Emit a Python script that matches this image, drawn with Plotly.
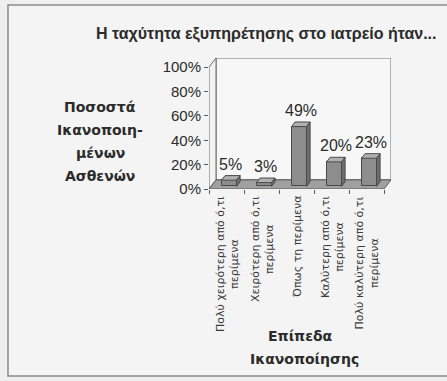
import plotly.graph_objects as go

# Survey results: perceived speed of service at the practice
categories = [
    "Πολύ χειρότερη από ό,τι<br>περίμενα",
    "Χειρότερη από ό,τι<br>περίμενα",
    "Όπως τη περίμενα",
    "Καλύτερη από ό,τι<br>περίμενα",
    "Πολύ καλύτερη από ό,τι<br>περίμενα",
]
percent = [5, 3, 49, 20, 23]
y_ticks = [0, 20, 40, 60, 80, 100]

title_text = "Η ταχύτητα εξυπηρέτησης στο ιατρείο ήταν..."
y_title_lines = ["Ποσοστά", "Ικανοποιη-", "μένων", "Ασθενών"]
x_title_lines = ["Επίπεδα", "Ικανοποίησης"]

# Figure geometry (pixels)
W, H = 447, 381
PL, PR, PT, PB = 209, 391, 58, 189  # plot area box

FONT = "Liberation Sans, Arial, sans-serif"
WIDE = "DejaVu Sans, Verdana, sans-serif"
TEXT = "#2b2b2b"

# 3D perspective offsets in data units
DX = 0.2      # depth along x (category units)
DY = 7.5      # depth along y (percent units)
XL, XR = -0.514, 4.486  # front-left / front-right floor edges
BAR_W = 0.43
FRONT_FRAC = 0.3   # where the bar front face sits within the floor depth
DEPTH_FRAC = 0.5   # bar depth as a fraction of the floor depth

sx, sy = FRONT_FRAC * DX, FRONT_FRAC * DY
bdx, bdy = DEPTH_FRAC * DX, DEPTH_FRAC * DY
xs = [i + sx for i in range(len(percent))]


def paper_x(px):
    return (px - PL) / (PR - PL)


def paper_y(py):
    return (PB - py) / (PB - PT)


fig = go.Figure()

# Front faces of the bars
fig.add_trace(go.Bar(
    x=xs, y=percent, base=[sy] * len(percent), width=BAR_W,
    marker=dict(color="#8d8d8d", line=dict(color="#4a4a4a", width=1)),
    hoverinfo="skip", showlegend=False,
))

# Top and side faces of the bars
top_x, top_y, side_x, side_y = [], [], [], []
for xc, v in zip(xs, percent):
    x0, x1 = xc - BAR_W / 2, xc + BAR_W / 2
    yt = sy + v
    top_x += [x0, x0 + bdx, x1 + bdx, x1, x0, None]
    top_y += [yt, yt + bdy, yt + bdy, yt, yt, None]
    side_x += [x1, x1 + bdx, x1 + bdx, x1, x1, None]
    side_y += [sy, sy + bdy, yt + bdy, yt, sy, None]

fig.add_trace(go.Scatter(
    x=top_x, y=top_y, mode="lines", fill="toself", fillcolor="#b0b0b0",
    line=dict(color="#4a4a4a", width=1), hoverinfo="skip", showlegend=False,
))
fig.add_trace(go.Scatter(
    x=side_x, y=side_y, mode="lines", fill="toself", fillcolor="#6f6f6f",
    line=dict(color="#4a4a4a", width=1), hoverinfo="skip", showlegend=False,
))

shapes = [
    # outer frame of the chart
    dict(type="rect", xref="paper", yref="paper",
         x0=paper_x(8), x1=paper_x(470), y0=paper_y(376), y1=paper_y(5),
         line=dict(color="#8a8a8a", width=1.5), fillcolor="#f4f4f4", layer="below"),
    # back wall
    dict(type="rect", xref="x", yref="y", x0=XL + DX, x1=XR + DX, y0=DY, y1=100 + DY,
         line=dict(color="#6a6a6a", width=1), fillcolor="#f7f7f7", layer="below"),
    # left wall
    dict(type="path", xref="x", yref="y",
         path=f"M{XL},0 L{XL},100 L{XL + DX},{100 + DY} L{XL + DX},{DY} Z",
         line=dict(color="#6a6a6a", width=1), fillcolor="#f3f3f3", layer="below"),
    # floor
    dict(type="path", xref="x", yref="y",
         path=f"M{XL},0 L{XR},0 L{XR + DX},{DY} L{XL + DX},{DY} Z",
         line=dict(color="#5a5a5a", width=1), fillcolor="#a0a0a0", layer="below"),
]

annotations = []
# value labels above the bars
for xc, v in zip(xs, percent):
    annotations.append(dict(
        x=xc + bdx / 2, y=sy + v + bdy, xref="x", yref="y",
        text=f"{v}%", showarrow=False, yanchor="bottom", yshift=1,
        font=dict(family=FONT, size=16, color=TEXT),
    ))
# rotated category labels below the floor
for i, cat in enumerate(categories):
    annotations.append(dict(
        x=i, y=0, xref="x", yref="y", text=cat, showarrow=False,
        textangle=-90, yanchor="top", yshift=-5, align="center",
        font=dict(family=WIDE, size=11, color="#3a3a3a"),
    ))
# chart title
annotations.append(dict(
    x=paper_x(266), y=paper_y(34), xref="paper", yref="paper", text=f"<b>{title_text}</b>",
    showarrow=False, xanchor="center", yanchor="middle",
    font=dict(family=FONT, size=16, color=TEXT),
))
# y axis title
for k, line in enumerate(y_title_lines):
    annotations.append(dict(
        x=paper_x(100), y=paper_y(107 + 23 * k), xref="paper", yref="paper",
        text=f"<b>{line}</b>", showarrow=False, xanchor="center", yanchor="middle",
        font=dict(family=WIDE, size=14, color=TEXT),
    ))
# x axis title
for k, (line, cx) in enumerate(zip(x_title_lines, [300, 304])):
    annotations.append(dict(
        x=paper_x(cx), y=paper_y(336 + 23 * k), xref="paper", yref="paper",
        text=f"<b>{line}</b>", showarrow=False, xanchor="center", yanchor="middle",
        font=dict(family=WIDE, size=14, color=TEXT),
    ))

fig.update_layout(
    width=W, height=H,
    margin=dict(l=PL, r=W - PR, t=PT, b=H - PB, pad=0),
    paper_bgcolor="#efefef", plot_bgcolor="rgba(0,0,0,0)",
    shapes=shapes, annotations=annotations, showlegend=False,
    xaxis=dict(
        range=[XL, XR + DX], showgrid=False, zeroline=False, showline=False,
        tickvals=[XL + i for i in range(len(percent) + 1)], showticklabels=False,
        ticks="outside", ticklen=4, tickcolor="#5a5a5a",
    ),
    yaxis=dict(
        range=[0, 100 + DY], showgrid=False, zeroline=False, showline=False,
        tickvals=y_ticks, ticktext=[f"{t}%" for t in y_ticks],
        ticks="outside", ticklen=4, tickcolor="#5a5a5a",
        tickfont=dict(family=FONT, size=15, color=TEXT),
    ),
    bargap=0,
)

fig.write_html("out.html")
